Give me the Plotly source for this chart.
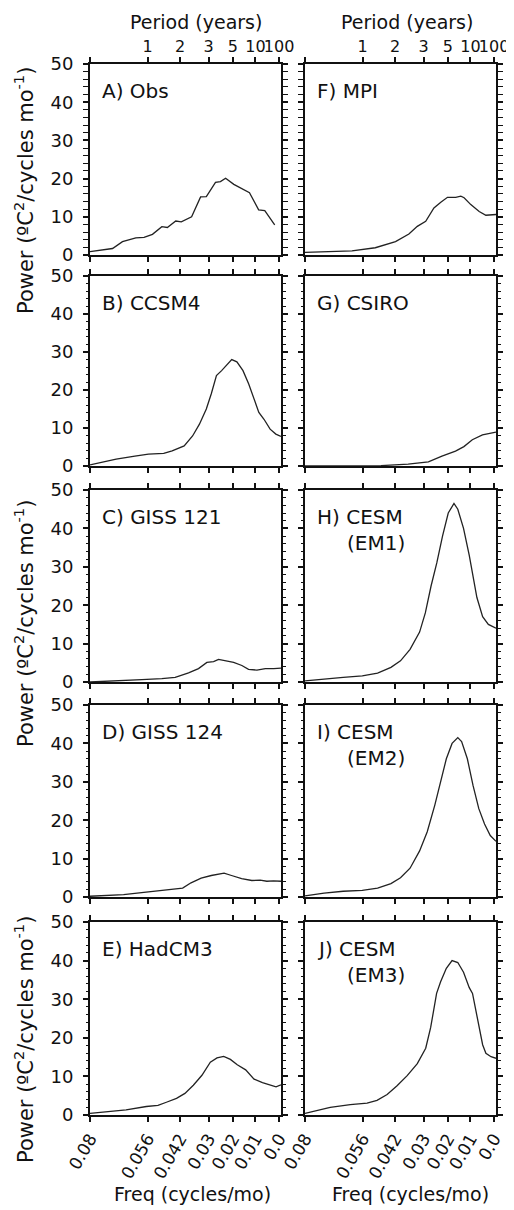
import plotly.graph_objects as go

# page is 514x1210; the html body adds an 8px margin at the left/top, so shift everything by it
PAGE_W, PAGE_H, BODY = 514, 1210, 8
W, H = PAGE_W, PAGE_H
FONT = "DejaVu Sans, Verdana, sans-serif"
INK = "#111111"


def px(x):
    return (x - BODY) / W


def py(y):
    return 1 - (y - BODY) / H


# ---- axis tick definitions (positions along the custom frequency axis, 0 = left, 1 = right)
freq_tick_pos = [0.0, 0.302, 0.472, 0.621, 0.748, 0.866, 0.99]
freq_tick_text = ["0.08", "0.056", "0.042", "0.03", "0.02", "0.01", "0.0"]
period_tick_text = ["", "1", "2", "3", "5", "10", "100"]
power_ticks = [0, 10, 20, 30, 40, 50]

# ---- data: position along frequency axis and spectral power
obs_pos = [0.0, 0.118, 0.17, 0.24, 0.283, 0.327, 0.376, 0.405, 0.449, 0.478, 0.532, 0.579, 0.609,
           0.657, 0.683, 0.71, 0.753, 0.793, 0.835, 0.883, 0.915, 0.967]
obs_pow = [0.9, 1.7, 3.5, 4.5, 4.6, 5.4, 7.4, 7.2, 8.9, 8.7, 10.0, 15.2, 15.3,
           19.0, 19.2, 20.1, 18.5, 17.5, 16.3, 11.8, 11.6, 7.9]

ccsm4_pos = [0.0, 0.057, 0.137, 0.235, 0.306, 0.386, 0.43, 0.493, 0.537, 0.573, 0.609, 0.635, 0.662,
             0.689, 0.719, 0.742, 0.769, 0.801, 0.831, 0.861, 0.884, 0.911, 0.943, 0.973, 1.0]
ccsm4_pow = [0.3, 0.9, 1.8, 2.6, 3.1, 3.3, 4.0, 5.3, 7.9, 11.0, 15.0, 19.0, 23.8,
             25.1, 26.9, 28.0, 27.4, 25.1, 21.6, 17.2, 14.1, 12.3, 9.7, 8.4, 7.8]

giss121_pos = [0.0, 0.131, 0.271, 0.376, 0.446, 0.516, 0.568, 0.612, 0.647, 0.673, 0.699, 0.752,
               0.795, 0.83, 0.874, 0.918, 0.962, 1.0]
giss121_pow = [0.0, 0.2, 0.6, 0.9, 1.2, 2.4, 3.5, 5.1, 5.3, 5.9, 5.7, 5.1,
               4.3, 3.3, 3.1, 3.5, 3.5, 3.6]

giss124_pos = [0.0, 0.176, 0.282, 0.388, 0.485, 0.529, 0.582, 0.635, 0.702, 0.741, 0.794, 0.847,
               0.891, 0.926, 0.961, 1.0]
giss124_pow = [0.2, 0.6, 1.2, 1.7, 2.3, 3.7, 4.9, 5.6, 6.2, 5.6, 4.8, 4.3,
               4.4, 4.1, 4.2, 4.1]

hadcm3_pos = [0.0, 0.1, 0.189, 0.295, 0.356, 0.4, 0.453, 0.497, 0.541, 0.586, 0.63, 0.665, 0.7,
              0.735, 0.771, 0.815, 0.859, 0.903, 0.947, 0.974, 1.0]
hadcm3_pow = [0.4, 0.9, 1.3, 2.2, 2.5, 3.3, 4.3, 5.6, 7.7, 10.3, 13.7, 14.8, 15.2,
              14.4, 13.0, 11.7, 9.3, 8.4, 7.7, 7.3, 7.8]

mpi_pos = [0.0, 0.123, 0.246, 0.368, 0.474, 0.544, 0.588, 0.632, 0.675, 0.711, 0.746, 0.789, 0.816,
           0.833, 0.868, 0.912, 0.947, 1.0]
mpi_pow = [0.7, 0.9, 1.1, 1.9, 3.5, 5.5, 7.5, 8.8, 12.3, 13.8, 15.1, 15.1, 15.4,
           15.0, 13.2, 11.4, 10.4, 10.6]

csiro_pos = [0.0, 0.398, 0.54, 0.646, 0.717, 0.788, 0.832, 0.876, 0.929, 1.0]
csiro_pow = [0.0, 0.1, 0.5, 1.1, 2.6, 3.9, 5.1, 6.9, 8.2, 8.9]

em1_pos = [0.0, 0.1, 0.2, 0.3, 0.38, 0.45, 0.5, 0.55, 0.6, 0.63, 0.66, 0.69, 0.72, 0.75, 0.78,
           0.8, 0.83, 0.86, 0.88, 0.9, 0.93, 0.96, 1.0]
em1_pow = [0.3, 0.8, 1.2, 1.6, 2.3, 3.8, 5.5, 8.5, 13.0, 18.0, 25.0, 31.0, 38.0, 44.0, 46.5,
           45.0, 40.0, 33.0, 27.0, 22.0, 17.0, 15.0, 14.0]

em2_pos = [0.0, 0.1, 0.2, 0.3, 0.38, 0.45, 0.5, 0.55, 0.6, 0.64, 0.68, 0.71, 0.74, 0.77, 0.8,
           0.82, 0.85, 0.88, 0.91, 0.94, 0.97, 1.0]
em2_pow = [0.3, 1.0, 1.5, 1.7, 2.3, 3.5, 5.0, 7.5, 12.0, 17.0, 24.0, 30.0, 36.0, 40.0, 41.5,
           40.5, 36.0, 29.0, 23.0, 19.0, 16.0, 14.5]

em3_pos = [0.0, 0.132, 0.237, 0.325, 0.377, 0.43, 0.482, 0.535, 0.588, 0.632, 0.658, 0.675, 0.689,
           0.71, 0.74, 0.77, 0.8, 0.83, 0.86, 0.877, 0.904, 0.93, 0.947, 0.974, 1.0]
em3_pow = [0.4, 2.0, 2.7, 3.1, 3.8, 5.3, 7.6, 10.2, 13.3, 17.3, 22.7, 28.0, 31.5,
           34.5, 38.0, 40.0, 39.5, 37.0, 33.0, 31.5, 24.4, 18.2, 16.0, 15.1, 14.7]

panels = [
    # (label line 1, label line 2, pos, power, col, row)
    ("A) Obs", "", obs_pos, obs_pow, 0, 0),
    ("B) CCSM4", "", ccsm4_pos, ccsm4_pow, 0, 1),
    ("C) GISS 121", "", giss121_pos, giss121_pow, 0, 2),
    ("D) GISS 124", "", giss124_pos, giss124_pow, 0, 3),
    ("E) HadCM3", "", hadcm3_pos, hadcm3_pow, 0, 4),
    ("F) MPI", "", mpi_pos, mpi_pow, 1, 0),
    ("G) CSIRO", "", csiro_pos, csiro_pow, 1, 1),
    ("H) CESM", "(EM1)", em1_pos, em1_pow, 1, 2),
    ("I) CESM", "(EM2)", em2_pos, em2_pow, 1, 3),
    ("J) CESM", "(EM3)", em3_pos, em3_pow, 1, 4),
]

# panel pixel geometry (page pixels)
col_x = [(90, 281), (305, 496)]
row_y = [(64, 255), (276, 466), (490, 682), (705, 897), (922, 1115)]

fig = go.Figure()
layout = dict(
    width=W, height=H, margin=dict(l=0, r=0, t=0, b=0, autoexpand=False),
    paper_bgcolor="white", plot_bgcolor="white", showlegend=False,
    font=dict(family=FONT, color=INK, size=18),
)
annotations = []

for i, (lab1, lab2, pos, pw, c, r) in enumerate(panels):
    n = i + 1
    xname = "x" if n == 1 else f"x{n}"
    yname = "y" if n == 1 else f"y{n}"
    xk = "xaxis" if n == 1 else f"xaxis{n}"
    yk = "yaxis" if n == 1 else f"yaxis{n}"
    x0, x1 = col_x[c]
    ytop, ybot = row_y[r]
    fig.add_trace(go.Scatter(x=pos, y=pw, mode="lines", xaxis=xname, yaxis=yname,
                             line=dict(color="#222222", width=1.3), hoverinfo="skip"))
    bottom = (r == 4)
    layout[xk] = dict(
        domain=[px(x0), px(x1)], anchor=yname, range=[0, 1], automargin=False,
        tickmode="array", tickvals=freq_tick_pos, ticktext=freq_tick_text,
        showticklabels=bottom, tickangle=-60, tickfont=dict(size=17),
        ticks="outside", ticklen=5, tickwidth=1.5, tickcolor=INK,
        showline=True, linecolor=INK, linewidth=2, mirror="allticks",
        showgrid=False, zeroline=False, fixedrange=True,
    )
    layout[yk] = dict(
        domain=[py(ybot), py(ytop)], anchor=xname, range=[0, 50], automargin=False,
        tickmode="array", tickvals=power_ticks,
        showticklabels=(c == 0), tickfont=dict(size=18), ticklabelstandoff=6,
        ticks="outside", ticklen=5, tickwidth=1.5, tickcolor=INK,
        minor=dict(dtick=2, tick0=0, ticks="outside", ticklen=2.5, tickwidth=1, tickcolor=INK),
        showline=True, linecolor=INK, linewidth=2, mirror="allticks",
        showgrid=False, zeroline=False, fixedrange=True,
    )
    # panel labels
    annotations.append(dict(text=lab1, xref="paper", yref="paper",
                            x=px(x0 + 10), y=py(ytop + 27),
                            xanchor="left", yanchor="middle", showarrow=False,
                            font=dict(size=20, family=FONT, color=INK)))
    if lab2:
        annotations.append(dict(text=lab2, xref="paper", yref="paper",
                                x=px(x0 + 40), y=py(ytop + 53),
                                xanchor="left", yanchor="middle", showarrow=False,
                                font=dict(size=20, family=FONT, color=INK)))

# top period axes for the top row (overlay axes)
for k, (base_n, c) in enumerate([(1, 0), (6, 1)]):
    n = 11 + k
    x0, x1 = col_x[c]
    ybase = "y" if base_n == 1 else f"y{base_n}"
    fig.add_trace(go.Scatter(x=[None], y=[None], xaxis=f"x{n}", yaxis=ybase,
                             mode="lines", hoverinfo="skip"))
    layout[f"xaxis{n}"] = dict(
        domain=[px(x0), px(x1)], anchor=ybase, overlaying="x" if base_n == 1 else f"x{base_n}",
        side="top", range=[0, 1], automargin=False, tickangle=0,
        tickmode="array", tickvals=freq_tick_pos, ticktext=period_tick_text,
        tickfont=dict(size=16), ticks="outside", ticklen=5, tickwidth=1.5, tickcolor=INK,
        showline=False, showgrid=False, zeroline=False, fixedrange=True,
    )

# shared titles
for cx in [196, 407]:
    annotations.append(dict(text="Period (years)", xref="paper", yref="paper",
                            x=px(cx), y=py(BODY + 1), xanchor="center", yanchor="top",
                            showarrow=False, font=dict(size=19, family=FONT, color=INK)))
for cx in [192, 410]:
    annotations.append(dict(text="Freq (cycles/mo)", xref="paper", yref="paper",
                            x=px(cx), y=py(1194), xanchor="center", yanchor="middle",
                            showarrow=False, font=dict(size=19, family=FONT, color=INK)))
ytitle = "Power (ºC<sup>2</sup>/cycles mo<sup>-1</sup>)"
for cy in [191, 624, 1040]:
    annotations.append(dict(text=ytitle, xref="paper", yref="paper",
                            x=px(24), y=py(cy), xanchor="center", yanchor="middle",
                            textangle=-90, showarrow=False,
                            font=dict(size=21, family=FONT, color=INK)))

layout["annotations"] = annotations
fig.update_layout(**layout)
fig.write_html("out.html")
